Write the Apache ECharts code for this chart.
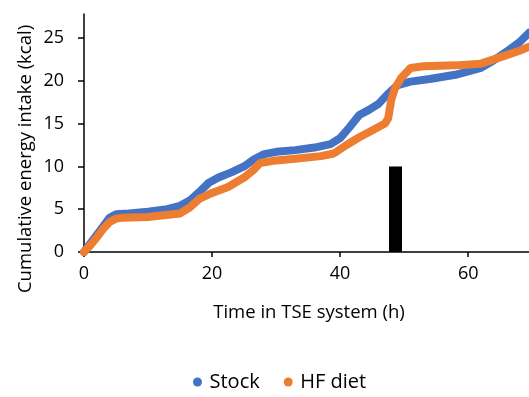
<!DOCTYPE html>
<html>
<head>
<meta charset="utf-8">
<script src="https://cdn.jsdelivr.net/npm/echarts@6/dist/echarts.min.js"></script>
<style>html,body{margin:0;padding:0;background:#fff}#c{width:529px;height:397px}</style>
</head>
<body>
<div id="c"></div>
<script>
// Data
const stockTime   = [0, 1, 2, 3, 4, 5, 7, 10, 13, 15, 16.5, 18, 19.5, 21, 23, 25, 26.5, 28, 30, 33, 36, 38.5, 40, 41.5, 43, 44.5, 46, 47.5, 49, 51, 54, 58, 62, 64, 66, 68, 69.5];
const stockValues = [0, 1.0, 2.0, 3.0, 4.0, 4.4, 4.5, 4.7, 5.0, 5.4, 6.0, 7.0, 8.1, 8.7, 9.3, 10.0, 10.8, 11.4, 11.7, 11.9, 12.2, 12.6, 13.3, 14.6, 16.0, 16.6, 17.3, 18.5, 19.5, 19.9, 20.2, 20.7, 21.5, 22.4, 23.4, 24.5, 25.6];
const hfTime      = [0, 1, 2, 3, 4, 5, 6, 10, 15, 16.5, 18, 20, 22.5, 25, 26.5, 27.5, 30, 33, 37, 39, 41, 43, 45, 47, 47.5, 48, 48.5, 49.5, 51, 53, 58, 62, 64, 66, 68, 69.5];
const hfValues    = [0, 0.8, 1.7, 2.7, 3.5, 3.9, 4.0, 4.1, 4.5, 5.2, 6.2, 6.9, 7.6, 8.7, 9.6, 10.4, 10.7, 10.9, 11.2, 11.5, 12.5, 13.4, 14.2, 15.0, 15.6, 17.8, 19.0, 20.3, 21.5, 21.7, 21.8, 22.0, 22.5, 23.0, 23.5, 24.0];
const markerTime  = [48.65];
const markerValue = [10];
const seriesNames = ['Stock', 'HF diet'];
const xTicks = [0, 20, 40, 60];
const yTicks = [0, 5, 10, 15, 20, 25];

const FONT = 'Open Sans';
const chart = echarts.init(document.getElementById('c'), null, {renderer: 'canvas'});
chart.setOption({
  animation: false,
  textStyle: {fontFamily: FONT},
  grid: {left: 84, right: 0, top: 14, bottom: 145, containLabel: false},
  legend: {
    data: seriesNames,
    icon: 'circle',
    itemWidth: 14, itemHeight: 9, itemGap: 24,
    left: 188, top: 367,
    textStyle: {fontFamily: FONT, fontSize: 20, color: '#000'}
  },
  xAxis: {
    type: 'value', min: 0, max: 69.5, interval: 20,
    axisLine: {lineStyle: {color: '#000', width: 1.5}},
    axisTick: {show: true, length: 5, lineStyle: {color: '#000', width: 1.5}},
    axisLabel: {color: '#000', fontSize: 18, margin: 13, showMaxLabel: false,
      formatter: v => xTicks.includes(v) ? String(v) : ''},
    splitLine: {show: false}
  },
  yAxis: {
    type: 'value', min: 0, max: 27.8, interval: 5,
    axisLine: {show: true, lineStyle: {color: '#000', width: 1.5}},
    axisTick: {show: true, length: 6, lineStyle: {color: '#000', width: 1.5}},
    axisLabel: {color: '#000', fontSize: 18, margin: 20, showMaxLabel: false,
      formatter: v => yTicks.includes(v) ? String(v) : ''},
    splitLine: {show: false}
  },
  graphic: [
    {type: 'text', x: 309, y: 313,
     style: {text: 'Time in TSE system (h)', font: '18.5px "Open Sans"', fill: '#000', align: 'center', verticalAlign: 'middle'}},
    {type: 'text', x: 26, y: 159, rotation: Math.PI / 2,
     style: {text: 'Cumulative energy intake (kcal)', font: '18.5px "Open Sans"', fill: '#000', align: 'center', verticalAlign: 'middle'}}
  ],
  series: [
    {name: 'HF-marker', type: 'bar', barWidth: 13, itemStyle: {color: '#000'},
     data: markerTime.map((t, i) => [t, markerValue[i]])},
    {name: seriesNames[0], type: 'line', showSymbol: false, color: '#4472C4',
     lineStyle: {width: 8, color: '#4472C4', join: 'round', cap: 'round'},
     data: stockTime.map((t, i) => [t, stockValues[i]])},
    {name: seriesNames[1], type: 'line', showSymbol: false, color: '#ED7D31',
     lineStyle: {width: 8, color: '#ED7D31', join: 'round', cap: 'round'},
     data: hfTime.map((t, i) => [t, hfValues[i]])}
  ]
});
</script>
</body>
</html>
